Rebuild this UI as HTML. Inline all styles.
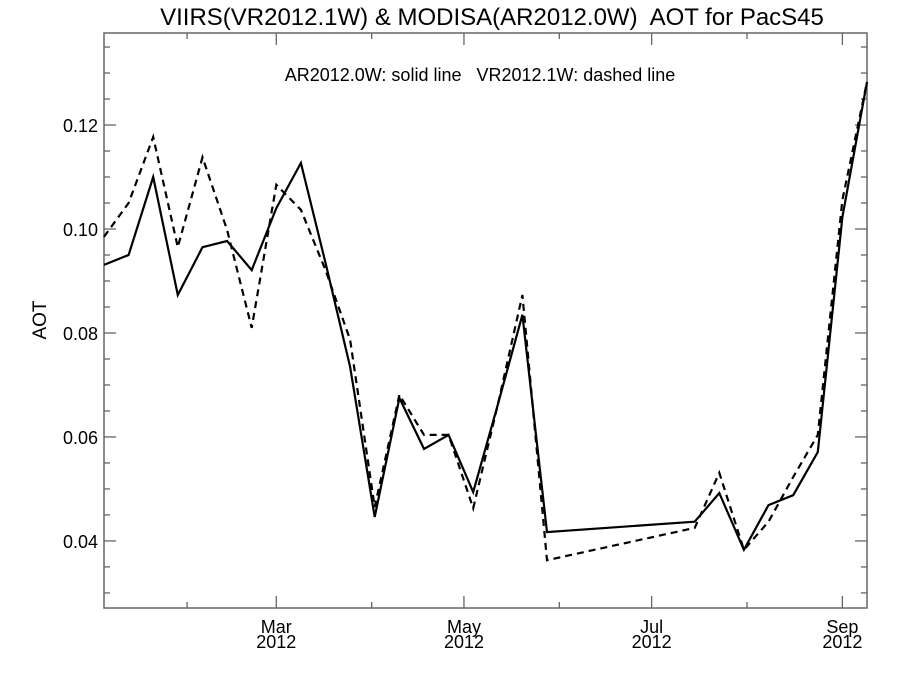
<!DOCTYPE html>
<html><head><meta charset="utf-8"><style>
body{margin:0;background:#fff;}
svg text{font-family:"Liberation Sans",sans-serif;fill:#000;white-space:pre;}
</style></head><body>
<svg id="chart" width="900" height="675" xmlns="http://www.w3.org/2000/svg">
<text x="492" y="25" font-size="24" text-anchor="middle" xml:space="preserve">VIIRS(VR2012.1W) &amp; MODISA(AR2012.0W)  AOT for PacS45</text>
<text x="480" y="81" font-size="18" text-anchor="middle" xml:space="preserve">AR2012.0W: solid line   VR2012.1W: dashed line</text>
<text transform="translate(46,320) rotate(-90)" font-size="19" text-anchor="middle">AOT</text>
<g id="axes"></g>
<g id="series"></g>
</svg>
<script>
const days = [5,13,21,29,37,45,53,61,69,77,85,93,101,109,117,125,133,141,149,197,205,213,221,229,237,245,253];
const modisValues = [0.0931,0.0950,0.1100,0.0873,0.0965,0.0977,0.0921,0.1040,0.1127,0.0935,0.0735,0.0446,0.0675,0.0577,0.0604,0.0494,0.0662,0.0835,0.0417,0.0437,0.0492,0.0383,0.0469,0.0488,0.0571,0.1023,0.1283];
const viirsValues = [0.0985,0.1050,0.1177,0.0965,0.1138,0.0998,0.0810,0.1085,0.1037,0.0921,0.0787,0.0465,0.0681,0.0604,0.0604,0.0463,0.0662,0.0873,0.0363,0.0425,0.0531,0.0383,0.0437,0.0523,0.0604,0.1056,0.1283];
const yTickLabels = ["0.04","0.06","0.08","0.10","0.12"];
const monthTickDays = [32,61,92,122,153,183,214,245];
const monthLabels = ["","Mar","","May","","Jul","","Sep"];

const L=104,R=867,T=33,B=608, D0=5, D1=253, V0=0.0271, V1=0.1377;
const xS=d=>L+(d-D0)*(R-L)/(D1-D0);
const yS=v=>B-(v-V0)*(B-T)/(V1-V0);
const NS="http://www.w3.org/2000/svg";
const axes=document.getElementById('axes'), series=document.getElementById('series');
function mk(tag,attrs,parent){const e=document.createElementNS(NS,tag);for(const k in attrs)e.setAttribute(k,attrs[k]);parent.appendChild(e);return e;}

const frame=mk('rect',{x:L,y:T,width:R-L,height:B-T,fill:'none',stroke:'#666','stroke-width':1.5},axes);



for(let v=0.03;v<=0.1375;v+=0.005){
  const vv=Math.round(v*1000)/1000;
  const y=yS(vv);
  const major=Math.abs(vv*100-Math.round(vv*50)*2)<1e-6 && vv>=0.04;
  const len=major?12:6;
  const t1=mk('line',{x1:L,x2:L+len,y1:y,y2:y,stroke:'#666','stroke-width':1.3},axes);
  
  
  const t2=mk('line',{x1:R,x2:R-len,y1:y,y2:y,stroke:'#666','stroke-width':1.3},axes);
  
  
}
yTickLabels.forEach(s=>{
  const tx=mk('text',{x:L-6,y:yS(parseFloat(s))+7,'font-size':18,'text-anchor':'end'},axes);
  tx.textContent=s;
  
  
});
monthTickDays.forEach((d,i)=>{
  const x=xS(d), major=monthLabels[i]!=="";
  const len=major?12:6;
  const b=mk('line',{x1:x,x2:x,y1:B,y2:B-len,stroke:'#666','stroke-width':1.3},axes);
  
  
  const t=mk('line',{x1:x,x2:x,y1:T,y2:T+len,stroke:'#666','stroke-width':1.3},axes);
  
  
  if(major){
    const a=mk('text',{x:x,y:B+25,'font-size':18,'text-anchor':'middle'},axes);
    a.textContent=monthLabels[i];
    
    
    const c=mk('text',{x:x,y:B+40,'font-size':18,'text-anchor':'middle'},axes);
    c.textContent="2012";
    
    
  }
});
function pts(vals){return days.map((d,i)=>xS(d).toFixed(1)+','+yS(vals[i]).toFixed(1)).join(' ');}
const s1=mk('polyline',{points:pts(modisValues),fill:'none',stroke:'#000','stroke-width':2.2,'stroke-linejoin':'miter'},series);


const s2=mk('polyline',{points:pts(viirsValues),fill:'none',stroke:'#000','stroke-width':2.2,'stroke-dasharray':'7,5'},series);


</script>
</body></html>
